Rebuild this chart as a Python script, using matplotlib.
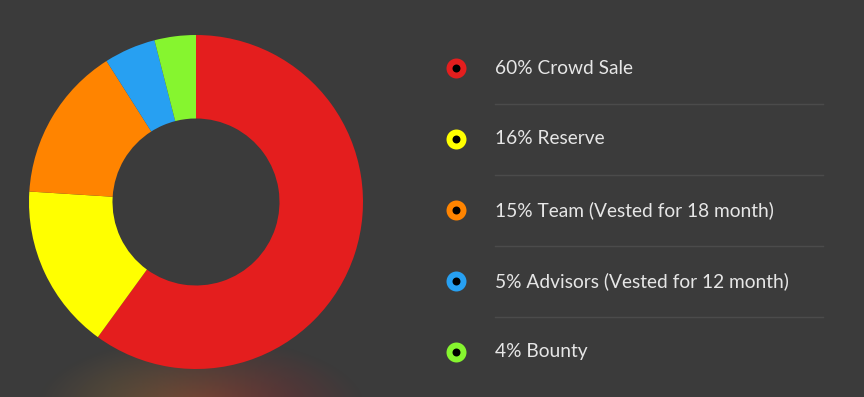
import numpy as np
import matplotlib
matplotlib.use("Agg")
import matplotlib.pyplot as plt
from matplotlib.colors import to_rgb

labels = ["60% Crowd Sale", "16% Reserve", "15% Team (Vested for 18 month)",
          "5% Advisors (Vested for 12 month)", "4% Bounty"]
shares = [60, 16, 15, 5, 4]
colors = ["#e41e1e", "#ffff00", "#ff8400", "#27a0f2", "#86f52f"]

W, H = 864, 397
bg = "#3b3b3b"

fig = plt.figure(figsize=(W / 100, H / 100), dpi=100, facecolor=bg)
ax = fig.add_axes([0, 0, 1, 1])
ax.set_facecolor(bg)

# soft glow under the donut
gx, gy = np.meshgrid(np.arange(0, 420), np.arange(0, 110))
d = np.sqrt(((gx - 200) / 165.0) ** 2 + ((gy + 10) / 70.0) ** 2)
alpha = np.clip(1 - d, 0, 1) ** 1.1 * 0.75
t = np.clip((gx - 110) / 190.0, 0, 1)[..., None]
c1, c2 = np.array(to_rgb("#8a6434")), np.array(to_rgb("#8e2a2e"))
img = np.zeros((110, 420, 4))
img[..., :3] = c1 * (1 - t) + c2 * t
img[..., 3] = alpha
ax.imshow(img, extent=(0, 420, 0, 110), origin="lower", zorder=0, interpolation="bilinear")

cx, cy, r = 196, H - 202, 167
ax.pie(shares, colors=colors, startangle=90, counterclock=False, center=(cx, cy),
       radius=r, wedgeprops=dict(width=r * 0.5, linewidth=0), frame=True)
ax.set_xlim(0, W)
ax.set_ylim(0, H)
ax.set_aspect("equal")
ax.axis("off")

rows_y = [68, 139, 210, 281, 352]
for lab, col, y in zip(labels, colors, rows_y):
    yy = H - y
    ax.scatter([456], [yy], s=207, color=col, zorder=3, linewidths=0)
    ax.scatter([456], [yy], s=33, color="black", zorder=4, linewidths=0)
    ax.text(495, yy, lab, color="#e6e6e6", fontsize=13.8, family="Lato",
            va="center", ha="left")

for y in [104, 175, 246, 317]:
    ax.plot([495, 823], [H - y, H - y], color="#4b4b4b", lw=1)

fig.savefig("out.png", dpi=100, facecolor=bg)
